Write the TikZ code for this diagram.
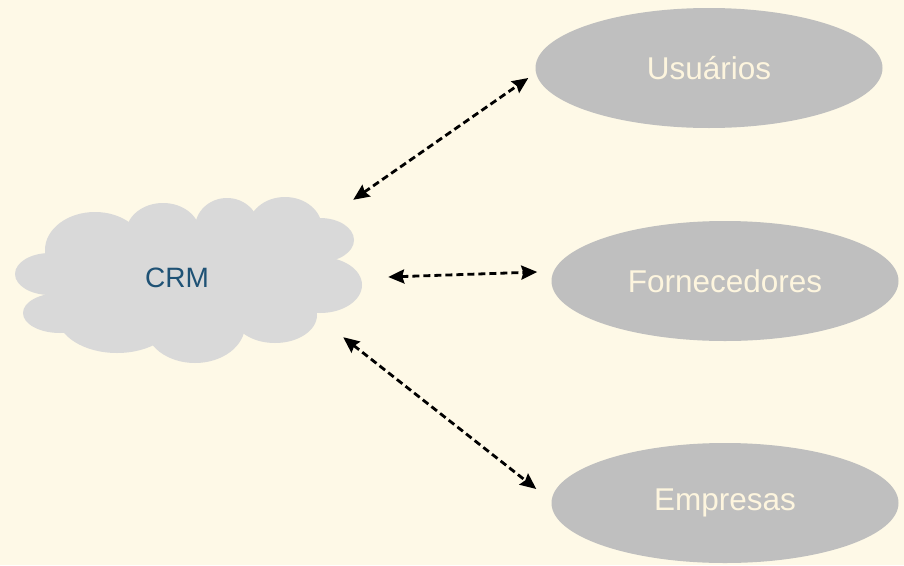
\documentclass[tikz,border=0pt]{standalone}
\usepackage{fontspec}
\setmainfont{Liberation Sans}
\usetikzlibrary{shapes.geometric,arrows.meta}
\definecolor{bgc}{HTML}{FEF9E7}
\definecolor{cloudc}{HTML}{D9D9D9}
\definecolor{ellc}{HTML}{BFBFBF}
\definecolor{elltext}{HTML}{FDF5DE}
\definecolor{crmtext}{HTML}{1F5275}
\tikzset{
  party/.style={ellipse, fill=ellc, draw=none, minimum width=347pt, minimum height=120pt, inner sep=0pt,
    text=elltext, font=\fontsize{31.5}{38}\selectfont},
  crmbox/.style={rectangle, draw=none, minimum width=330pt, minimum height=166pt, inner sep=0pt,
    text=crmtext, font=\fontsize{28}{34}\selectfont},
  conn/.style={line width=2.8pt, dash pattern=on 7pt off 4pt, {Stealth[length=16pt,width=14pt,inset=2pt]}-{Stealth[length=16pt,width=14pt,inset=2pt]}},
}
\begin{document}
\begin{tikzpicture}[x=1pt,y=-1pt]
\fill[bgc] (0,0) rectangle (904,565);
\useasboundingbox (0,0) rectangle (904,565);
% cloud
\begin{scope}[fill=cloudc]
\fill (190,280) ellipse [x radius=140, y radius=55];
\fill (50,274) ellipse [x radius=35, y radius=21];
\fill (60,313) ellipse [x radius=37, y radius=20];
\fill (117,315) ellipse [x radius=60, y radius=38];
\fill (195,325) ellipse [x radius=50, y radius=38];
\fill (275,315) ellipse [x radius=42, y radius=28];
\fill (320,285) ellipse [x radius=42, y radius=28];
\fill (320,240) ellipse [x radius=34, y radius=22];
\fill (285,228) ellipse [x radius=37, y radius=31];
\fill (227,228) ellipse [x radius=32, y radius=30];
\fill (163,233) ellipse [x radius=37, y radius=30];
\fill (95,250) ellipse [x radius=50, y radius=38];
\end{scope}
\node[crmbox] (crm) at (177,278) {CRM};
\node[party] (usr) at (709,68) {Usuários};
\node[party] (forn) at (725,281) {Fornecedores};
\node[party] (emp) at (725,503) {Empresas};
\draw[conn] ([shift={(11,5)}]crm.north east) -- ([shift={(-7,10)}]usr.west);
\draw[conn] ([shift={(46,-1)}]crm.east) -- ([shift={(-14,-9)}]forn.west);
\draw[conn] ([shift={(1,-24)}]crm.south east) -- ([shift={(-15,-14)}]emp.west);
\end{tikzpicture}
\end{document}
